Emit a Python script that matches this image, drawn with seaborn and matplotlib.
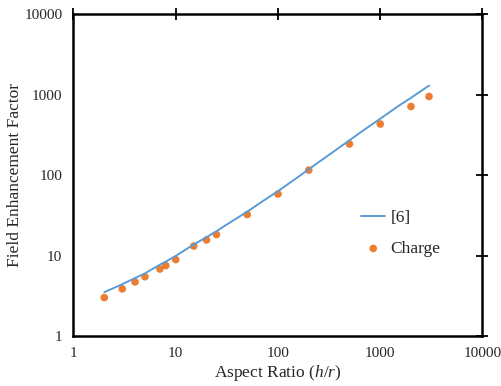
import numpy as np
import pandas as pd
import seaborn as sns
import matplotlib.pyplot as plt

# reference curve [6]
ref_ratio = [2, 3, 4, 5, 7, 8, 10, 15, 20, 25, 30, 40, 50, 70, 100, 150, 200, 300, 500,
             700, 1000, 1500, 2000, 3000]
ref_fef = [3.5, 4.4, 5.25, 6.0, 7.7, 8.4, 9.9, 13.7, 16.9, 20.0, 23.3, 29.3, 35, 46.8, 63, 90.5,
           118, 170, 270, 366, 500, 718, 910, 1290]

# charge simulation points
charge_ratio = [2, 3, 4, 5, 7, 8, 10, 15, 20, 25, 50, 100, 200, 500, 1000, 2000, 3000]
charge_fef = [3.0, 3.85, 4.7, 5.45, 6.8, 7.5, 8.9, 13.1, 15.6, 18.2, 32.3, 58, 115, 243, 430, 710, 945]

ticks = [1, 10, 100, 1000, 10000]
tick_labels = ['1', '10', '100', '1000', '10000']

sns.set_style('white')
plt.rcParams['font.family'] = ['Liberation Serif', 'DejaVu Serif']
plt.rcParams['mathtext.fontset'] = 'custom'
plt.rcParams['mathtext.rm'] = 'Liberation Serif'
plt.rcParams['mathtext.it'] = 'Liberation Serif:italic'

ref_df = pd.DataFrame({'ratio': ref_ratio, 'fef': ref_fef})
charge_df = pd.DataFrame({'ratio': charge_ratio, 'fef': charge_fef})

fig = plt.figure(figsize=(5.02, 3.86), dpi=100)
ax = fig.add_axes([0.1464, 0.1295, 0.8147, 0.8342])

sns.lineplot(x='ratio', y='fef', data=ref_df, ax=ax, color='#5B9BD5', lw=1.4, label='[6]')
sns.scatterplot(x='ratio', y='fef', data=charge_df, ax=ax, color='#ED7D31', s=30,
                edgecolor='none', label='Charge')

ax.set_xscale('log')
ax.set_yscale('log')
ax.set_xlim(1, 10000)
ax.set_ylim(1, 10000)
ax.set_xticks(ticks)
ax.set_xticklabels(tick_labels)
ax.set_yticks(ticks)
ax.set_yticklabels(tick_labels)
ax.minorticks_off()

for s in ax.spines.values():
    s.set_linewidth(1.8)
    s.set_color('black')
ax.tick_params(which='major', direction='inout', length=8, width=1.3, color='black',
               labelsize=11, top=True, right=True, pad=4)

ax.set_xlabel(r'Aspect Ratio $\mathit{(h/r)}$', fontsize=12.5, labelpad=2)
ax.set_ylabel('Field Enhancement Factor', fontsize=12.5)
ax.yaxis.set_label_coords(-0.123, 0.5)

ax.legend(loc='upper left', bbox_to_anchor=(0.665, 0.44), frameon=False,
          fontsize=12.5, handlelength=1.4, handletextpad=0.3, labelspacing=0.85)

fig.savefig('out.png', dpi=100)
